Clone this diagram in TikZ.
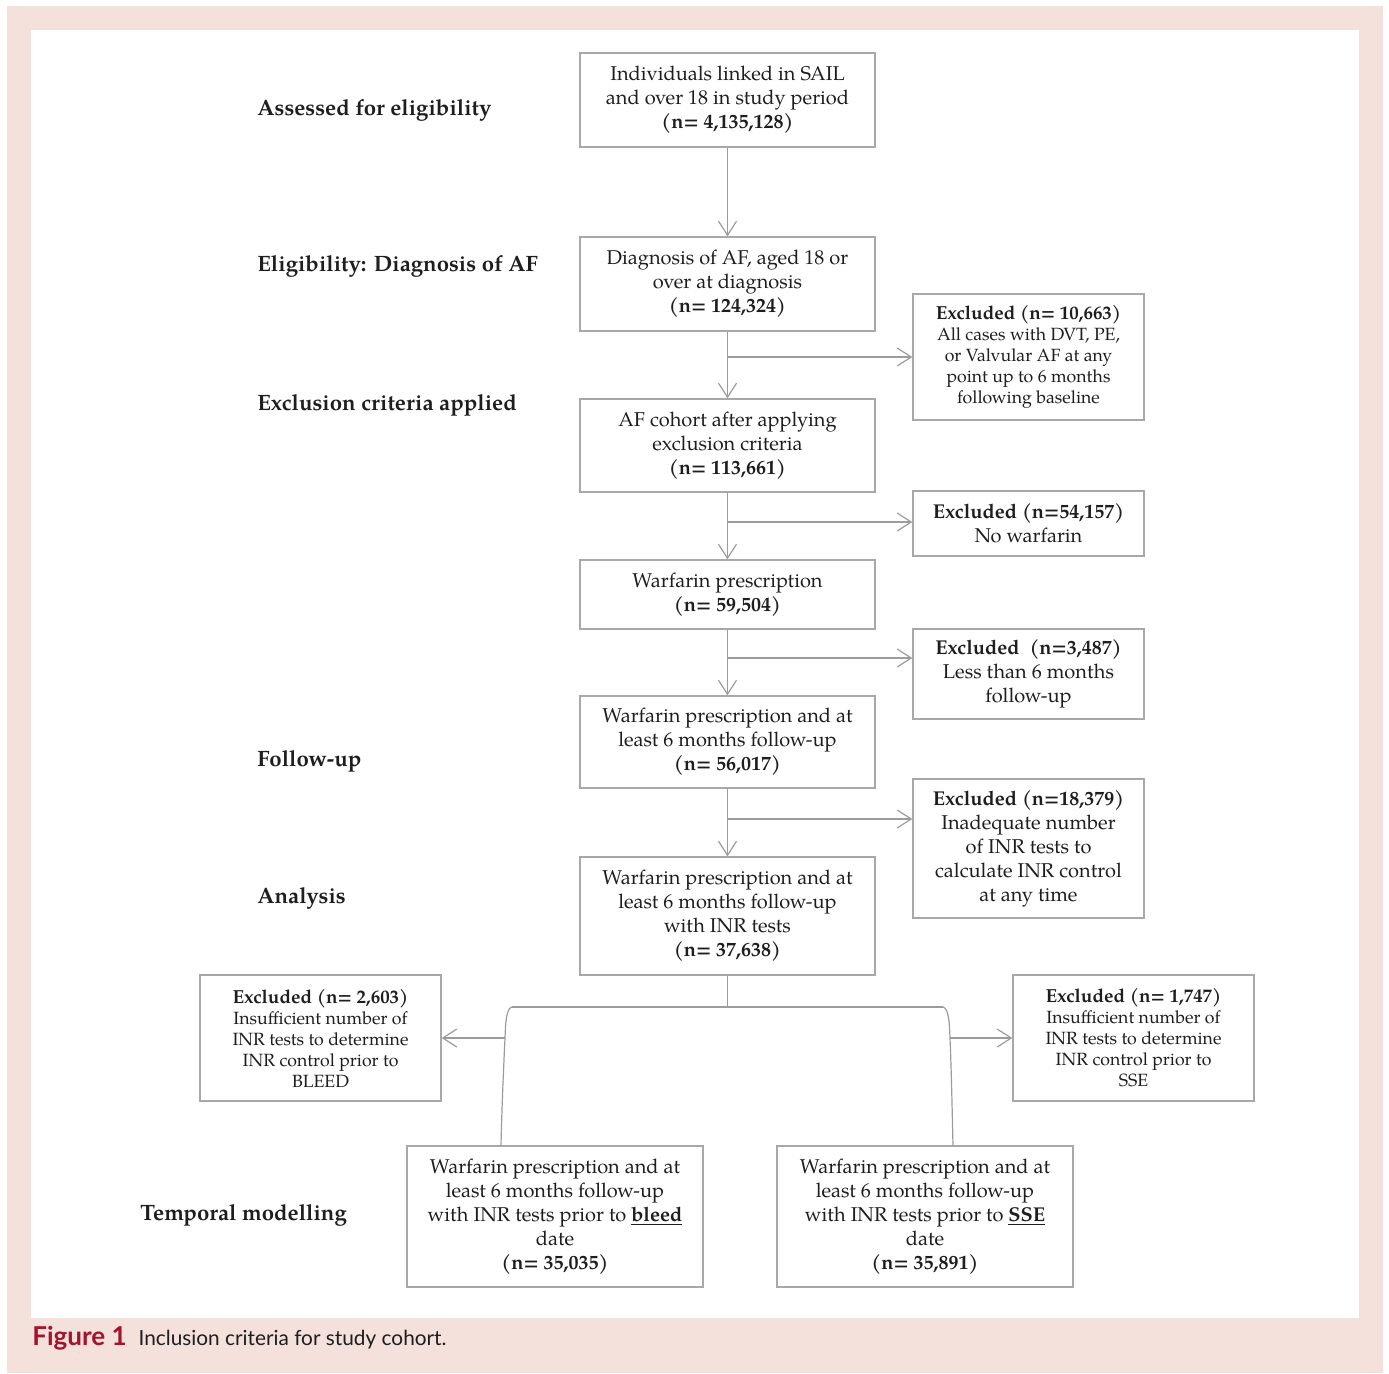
\documentclass[tikz,border=0pt]{standalone}
\usepackage{fontspec}
\usetikzlibrary{arrows.meta}
\setmainfont{TeX Gyre Pagella}
\newfontfamily\capfont{Lato}
\newcommand\palA{\fontsize{10}{12}\selectfont}
\newcommand\palB{\fontsize{8.85}{10.5}\selectfont}
\newcommand\palH{\fontsize{9.45}{10.5}\selectfont\bfseries}
\newcommand\palL{\fontsize{11.1}{13}\selectfont\bfseries}
\definecolor{pinkbg}{HTML}{F5E1DC}
\definecolor{boxgray}{HTML}{A8A8A8}
\definecolor{linegray}{HTML}{9C9C9C}
\definecolor{txt}{HTML}{1E1E1E}
\definecolor{figred}{HTML}{A3142C}
\tikzset{
  mainbox/.style={draw=boxgray, line width=0.7pt, align=center, inner sep=0pt, text=txt, font=\palA, minimum width=147.5pt},
  exbox/.style={draw=boxgray, line width=0.7pt, align=center, inner sep=0pt, text=txt, font=\palB, minimum width=115.5pt},
  lowbox/.style={draw=boxgray, line width=0.7pt, align=center, inner sep=0pt, text=txt, font=\palB, minimum width=120.5pt, minimum height=63pt},
  stagelabel/.style={anchor=west, inner sep=0pt, text=txt, font=\palL},
  conn/.style={draw=linegray, line width=0.6pt},
  arr/.style={conn, -{Straight Barb[length=7pt,width=9pt,line width=0.6pt]}}
}
\begin{document}
\begin{tikzpicture}[x=0.5pt,y=-0.5pt]
\useasboundingbox (0,0) rectangle (1389,1373);
\fill[pinkbg] (7,6) rectangle (1383,1373);
\fill[white] (31,30) rectangle (1359,1318);

% stage labels
\node[stagelabel] (s1) at (257,110) {Assessed for eligibility};
\node[stagelabel] (s2) at (257,266) {Eligibility: Diagnosis of AF};
\node[stagelabel] (s3) at (257,405) {Exclusion criteria applied};
\node[stagelabel] (s4) at (257,761) {Follow-up};
\node[stagelabel] (s5) at (257,898) {Analysis};
\node[stagelabel] (s6) at (140,1215) {Temporal modelling};

% main column
\node[mainbox, minimum height=47pt] (b1) at (727.5,100) {Individuals linked in SAIL\\and over 18 in study period\\\textbf{(n= 4,135,128)}};
\node[mainbox, minimum height=47pt] (b2) at (727.5,284) {Diagnosis of AF, aged 18 or\\over at diagnosis\\\textbf{(n= 124,324)}};
\node[mainbox, minimum height=46.5pt] (b3) at (727.5,445.5) {AF cohort after applying\\exclusion criteria\\\textbf{(n= 113,661)}};
\node[mainbox, minimum height=34.5pt] (b4) at (727.5,594.5) {Warfarin prescription\\\textbf{(n= 59,504)}};
\node[mainbox, minimum height=46pt] (b5) at (727.5,742) {Warfarin prescription and at\\least 6 months follow-up\\\textbf{(n= 56,017)}};
\node[mainbox, minimum height=59pt] (b6) at (727.5,916) {Warfarin prescription and at\\least 6 months follow-up\\with INR tests\\\textbf{(n= 37,638)}};

% exclusion boxes
\node[exbox, minimum height=63pt] (e1) at (1028.5,357) {{\palH Excluded (n= 10,663)}\\All cases with DVT, PE,\\or Valvular AF at any\\point up to 6 months\\following baseline};
\node[exbox, minimum height=32.5pt, font=\palA] (e2) at (1028.5,523.5) {\textbf{Excluded (n=54,157)}\\No warfarin};
\node[exbox, minimum height=45pt, font=\palA] (e3) at (1028.5,674) {\textbf{Excluded\ \ (n=3,487)}\\Less than 6 months\\follow-up};
\node[exbox, minimum height=69.5pt, font=\palA] (e4) at (1028.5,848.5) {\textbf{Excluded (n=18,379)}\\Inadequate number\\of INR tests to\\calculate INR control\\at any time};

\node[lowbox] (lx) at (320.5,1038) {{\palH Excluded (n= 2,603)}\\Insufficient number of\\INR tests to determine\\INR control prior to\\BLEED};
\node[lowbox] (rx) at (1133.5,1038) {{\palH Excluded (n= 1,747)}\\Insufficient number of\\INR tests to determine\\INR control prior to\\SSE};

\node[mainbox, minimum width=148pt, minimum height=70.5pt] (f1) at (555,1216.5) {Warfarin prescription and at\\least 6 months follow-up\\with INR tests prior to \textbf{\underline{bleed}}\\date\\\textbf{(n= 35,035)}};
\node[mainbox, minimum width=148pt, minimum height=70.5pt] (f2) at (925,1216.5) {Warfarin prescription and at\\least 6 months follow-up\\with INR tests prior to \textbf{\underline{SSE}}\\date\\\textbf{(n= 35,891)}};

% connectors
\draw[arr] (b1) -- (b2);
\draw[arr] (b2) -- (b3);
\draw[arr] (b3) -- (b4);
\draw[arr] (b4) -- (b5);
\draw[arr] (b5) -- (b6);

\coordinate (j1) at (727.5,357);
\coordinate (j2) at (727.5,522);
\coordinate (j3) at (727.5,658);
\coordinate (j4) at (727.5,819);
\draw[arr] (j1) -- (j1 -| e1.west);
\draw[arr] (j2) -- (j2 -| e2.west);
\draw[arr] (j3) -- (j3 -| e3.west);
\draw[arr] (j4) -- (j4 -| e4.west);

\coordinate (split) at (727.5,1007);
\coordinate (lc) at (512,1007);
\coordinate (rc) at (943,1007);
\coordinate (lm) at (505,1038);
\coordinate (rm) at (950,1038);
\coordinate (lb) at (501,1146);
\coordinate (rb) at (953,1146);
\draw[conn] (b6.south) -- (split);
\draw[conn] (lc) -- (rc);
\draw[conn] (lc) .. controls (506,1008) and (505.5,1025) .. (lm) .. controls (504,1060) and (502,1100) .. (lb);
\draw[conn] (rc) .. controls (949,1008) and (949.5,1025) .. (rm) .. controls (951,1060) and (952,1100) .. (rb);
\draw[arr] (lm) -- (lm -| lx.east);
\draw[arr] (rm) -- (rm -| rx.west);

% caption
\node[anchor=base west, inner sep=0pt, font=\capfont] (cap) at (32,1345) {\textcolor{figred}{\fontsize{13}{15}\selectfont\bfseries Figure 1}\hspace{6pt}\textcolor{txt}{\fontsize{10.4}{13}\selectfont Inclusion criteria for study cohort.}};
\end{tikzpicture}
\end{document}
